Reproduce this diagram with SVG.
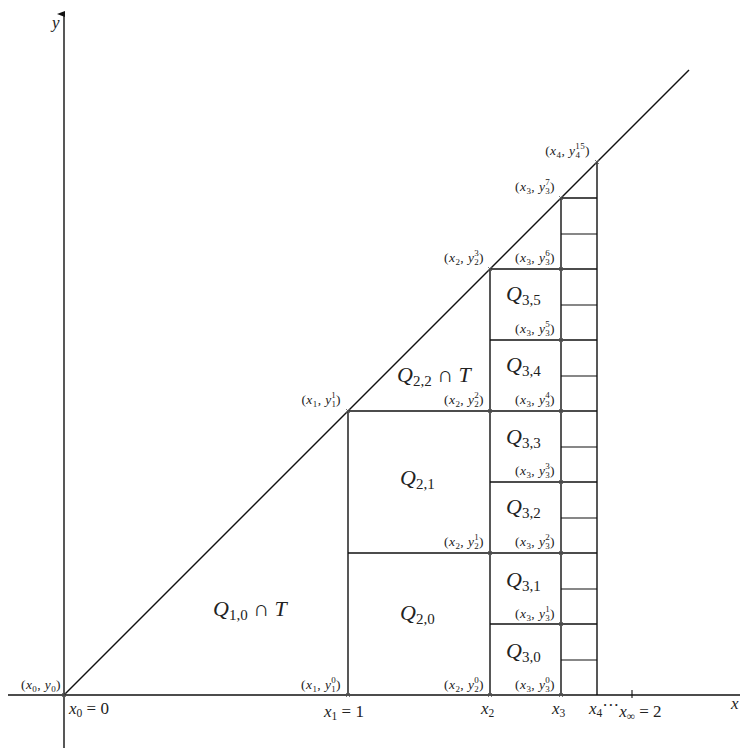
<svg xmlns="http://www.w3.org/2000/svg" width="740" height="748" viewBox="0 0 740 748">
<defs>
<style>
.ln{stroke:#111;stroke-width:1.4;fill:none}
.tn{stroke:#111;stroke-width:1.1;fill:none}
.ck{stroke:#555;stroke-width:0.8;fill:none}
text{font-family:"Liberation Serif","Times New Roman",serif;fill:#222}
.pt{font-size:13.5px;letter-spacing:0.4px}
.ax{font-size:17px}
.q{font-size:22px}
.i{font-style:italic}
.s{font-size:9px}
.as{font-size:11.5px}
.qs{font-size:15px}
</style>
<marker id="arr" markerWidth="8" markerHeight="8" refX="4" refY="7" orient="auto" markerUnits="userSpaceOnUse" viewBox="0 0 8 8">
<path d="M1,8 L4,0 L7,8 Z" fill="#111"/>
</marker>
<path id="ck" d="M-2,-2 L2,2 M-2,2 L2,-2" class="ck"/>
</defs>
<g id="axes">
<line class="ln" x1="8" y1="695" x2="740" y2="695"/>
<line class="ln" x1="64" y1="748" x2="64" y2="14" marker-end="url(#arr)"/>
<line class="tn" x1="632" y1="690" x2="632" y2="698"/>
</g>
<g id="connectors">
<line class="ln" x1="64" y1="695" x2="689" y2="70"/>
<line class="ln" x1="348" y1="695" x2="348" y2="411"/>
<line class="ln" x1="490" y1="695" x2="490" y2="269"/>
<line class="ln" x1="561" y1="695" x2="561" y2="198"/>
<line class="ln" x1="597" y1="695" x2="597" y2="162"/>
<line class="ln" x1="348" y1="411" x2="597" y2="411"/>
<line class="ln" x1="348" y1="553" x2="597" y2="553"/>
<line class="ln" x1="490" y1="269" x2="597" y2="269"/>
<line class="ln" x1="490" y1="624" x2="597" y2="624"/>
<line class="ln" x1="490" y1="482" x2="597" y2="482"/>
<line class="ln" x1="490" y1="340" x2="597" y2="340"/>
<line class="ln" x1="561" y1="198" x2="597" y2="198"/>
<line class="tn" x1="561" y1="660" x2="597" y2="660"/>
<line class="tn" x1="561" y1="589" x2="597" y2="589"/>
<line class="tn" x1="561" y1="518" x2="597" y2="518"/>
<line class="tn" x1="561" y1="447" x2="597" y2="447"/>
<line class="tn" x1="561" y1="376" x2="597" y2="376"/>
<line class="tn" x1="561" y1="305" x2="597" y2="305"/>
<line class="tn" x1="561" y1="234" x2="597" y2="234"/>
</g>
<g id="vertices">
<use href="#ck" x="64" y="695"/>
<use href="#ck" x="348" y="695"/>
<use href="#ck" x="490" y="695"/>
<use href="#ck" x="561" y="695"/>
<use href="#ck" x="348" y="411"/>
<use href="#ck" x="490" y="553"/>
<use href="#ck" x="490" y="411"/>
<use href="#ck" x="490" y="269"/>
<use href="#ck" x="561" y="624"/>
<use href="#ck" x="561" y="553"/>
<use href="#ck" x="561" y="482"/>
<use href="#ck" x="561" y="411"/>
<use href="#ck" x="561" y="340"/>
<use href="#ck" x="561" y="269"/>
<use href="#ck" x="561" y="198"/>
<use href="#ck" x="597" y="162"/>
</g>
<g id="axis-labels">
<text class="ax i" x="52" y="28">y</text>
<text class="ax i" x="731" y="709">x</text>
<text class="ax" x="69" y="714"><tspan class="i">x</tspan><tspan class="as" dy="3">0</tspan><tspan dy="-3"> = 0</tspan></text>
<text class="ax" x="324" y="717"><tspan class="i">x</tspan><tspan class="as" dy="3">1</tspan><tspan dy="-3"> = 1</tspan></text>
<text class="ax" x="481" y="714"><tspan class="i">x</tspan><tspan class="as" dy="3">2</tspan></text>
<text class="ax" x="552" y="714"><tspan class="i">x</tspan><tspan class="as" dy="3">3</tspan></text>
<text class="ax" x="589" y="714"><tspan class="i">x</tspan><tspan class="as" dy="3">4</tspan><tspan dy="-6">···</tspan><tspan class="i" dy="6">x</tspan><tspan class="as" dy="3">∞</tspan><tspan dy="-3"> = 2</tspan></text>
</g>
<g id="point-labels" class="pt" text-anchor="end">
<text x="61" y="689">(<tspan class="i">x</tspan><tspan class="s" dy="3">0</tspan><tspan dy="-3">, </tspan><tspan class="i">y</tspan><tspan class="s" dy="3">0</tspan><tspan dy="-3">)</tspan></text>
<text x="341" y="689">(<tspan class="i">x</tspan><tspan class="s" dy="3">1</tspan><tspan dy="-3">, </tspan><tspan class="i">y</tspan><tspan class="s" dy="3">1</tspan><tspan class="s" dx="-5" dy="-9.5">0</tspan><tspan dy="6.5">)</tspan></text>
<text x="341" y="404">(<tspan class="i">x</tspan><tspan class="s" dy="3">1</tspan><tspan dy="-3">, </tspan><tspan class="i">y</tspan><tspan class="s" dy="3">1</tspan><tspan class="s" dx="-5" dy="-9.5">1</tspan><tspan dy="6.5">)</tspan></text>
<text x="484" y="689">(<tspan class="i">x</tspan><tspan class="s" dy="3">2</tspan><tspan dy="-3">, </tspan><tspan class="i">y</tspan><tspan class="s" dy="3">2</tspan><tspan class="s" dx="-5" dy="-9.5">0</tspan><tspan dy="6.5">)</tspan></text>
<text x="484" y="546">(<tspan class="i">x</tspan><tspan class="s" dy="3">2</tspan><tspan dy="-3">, </tspan><tspan class="i">y</tspan><tspan class="s" dy="3">2</tspan><tspan class="s" dx="-5" dy="-9.5">1</tspan><tspan dy="6.5">)</tspan></text>
<text x="484" y="404">(<tspan class="i">x</tspan><tspan class="s" dy="3">2</tspan><tspan dy="-3">, </tspan><tspan class="i">y</tspan><tspan class="s" dy="3">2</tspan><tspan class="s" dx="-5" dy="-9.5">2</tspan><tspan dy="6.5">)</tspan></text>
<text x="484" y="262">(<tspan class="i">x</tspan><tspan class="s" dy="3">2</tspan><tspan dy="-3">, </tspan><tspan class="i">y</tspan><tspan class="s" dy="3">2</tspan><tspan class="s" dx="-5" dy="-9.5">3</tspan><tspan dy="6.5">)</tspan></text>
<text x="555" y="689">(<tspan class="i">x</tspan><tspan class="s" dy="3">3</tspan><tspan dy="-3">, </tspan><tspan class="i">y</tspan><tspan class="s" dy="3">3</tspan><tspan class="s" dx="-5" dy="-9.5">0</tspan><tspan dy="6.5">)</tspan></text>
<text x="555" y="618">(<tspan class="i">x</tspan><tspan class="s" dy="3">3</tspan><tspan dy="-3">, </tspan><tspan class="i">y</tspan><tspan class="s" dy="3">3</tspan><tspan class="s" dx="-5" dy="-9.5">1</tspan><tspan dy="6.5">)</tspan></text>
<text x="555" y="546">(<tspan class="i">x</tspan><tspan class="s" dy="3">3</tspan><tspan dy="-3">, </tspan><tspan class="i">y</tspan><tspan class="s" dy="3">3</tspan><tspan class="s" dx="-5" dy="-9.5">2</tspan><tspan dy="6.5">)</tspan></text>
<text x="555" y="475">(<tspan class="i">x</tspan><tspan class="s" dy="3">3</tspan><tspan dy="-3">, </tspan><tspan class="i">y</tspan><tspan class="s" dy="3">3</tspan><tspan class="s" dx="-5" dy="-9.5">3</tspan><tspan dy="6.5">)</tspan></text>
<text x="555" y="404">(<tspan class="i">x</tspan><tspan class="s" dy="3">3</tspan><tspan dy="-3">, </tspan><tspan class="i">y</tspan><tspan class="s" dy="3">3</tspan><tspan class="s" dx="-5" dy="-9.5">4</tspan><tspan dy="6.5">)</tspan></text>
<text x="555" y="333">(<tspan class="i">x</tspan><tspan class="s" dy="3">3</tspan><tspan dy="-3">, </tspan><tspan class="i">y</tspan><tspan class="s" dy="3">3</tspan><tspan class="s" dx="-5" dy="-9.5">5</tspan><tspan dy="6.5">)</tspan></text>
<text x="555" y="262">(<tspan class="i">x</tspan><tspan class="s" dy="3">3</tspan><tspan dy="-3">, </tspan><tspan class="i">y</tspan><tspan class="s" dy="3">3</tspan><tspan class="s" dx="-5" dy="-9.5">6</tspan><tspan dy="6.5">)</tspan></text>
<text x="555" y="191">(<tspan class="i">x</tspan><tspan class="s" dy="3">3</tspan><tspan dy="-3">, </tspan><tspan class="i">y</tspan><tspan class="s" dy="3">3</tspan><tspan class="s" dx="-5" dy="-9.5">7</tspan><tspan dy="6.5">)</tspan></text>
<text x="590" y="155">(<tspan class="i">x</tspan><tspan class="s" dy="3">4</tspan><tspan dy="-3">, </tspan><tspan class="i">y</tspan><tspan class="s" dy="3">4</tspan><tspan class="s" dx="-5" dy="-9.5">15</tspan><tspan dy="6.5">)</tspan></text>
</g>
<g id="region-labels" class="q">
<text x="213" y="616"><tspan class="i">Q</tspan><tspan class="qs" dy="4">1,0</tspan><tspan dy="-4"> ∩ </tspan><tspan class="i">T</tspan></text>
<text x="400" y="620"><tspan class="i">Q</tspan><tspan class="qs" dy="4">2,0</tspan></text>
<text x="400" y="485"><tspan class="i">Q</tspan><tspan class="qs" dy="4">2,1</tspan></text>
<text x="397" y="382"><tspan class="i">Q</tspan><tspan class="qs" dy="4">2,2</tspan><tspan dy="-4"> ∩ </tspan><tspan class="i">T</tspan></text>
<text x="506" y="658"><tspan class="i">Q</tspan><tspan class="qs" dy="4">3,0</tspan></text>
<text x="506" y="587"><tspan class="i">Q</tspan><tspan class="qs" dy="4">3,1</tspan></text>
<text x="506" y="514"><tspan class="i">Q</tspan><tspan class="qs" dy="4">3,2</tspan></text>
<text x="506" y="444"><tspan class="i">Q</tspan><tspan class="qs" dy="4">3,3</tspan></text>
<text x="506" y="372"><tspan class="i">Q</tspan><tspan class="qs" dy="4">3,4</tspan></text>
<text x="506" y="301"><tspan class="i">Q</tspan><tspan class="qs" dy="4">3,5</tspan></text>
</g>
</svg>
